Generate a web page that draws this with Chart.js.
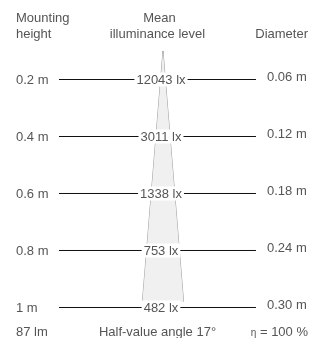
<!DOCTYPE html>
<html><head><meta charset="utf-8">
<script src="https://cdn.jsdelivr.net/npm/chart.js@4/dist/chart.umd.min.js"></script>
<style>html,body{margin:0;padding:0;background:#fff;overflow:hidden}#w{width:311px;height:338px;position:relative}</style>
</head><body>
<div id="w"><canvas id="c" width="311" height="338"></canvas></div>
<script>
// Data
const heights = [0.2, 0.4, 0.6, 0.8, 1.0];
const heightLabels = ['0.2 m', '0.4 m', '0.6 m', '0.8 m', '1 m'];
const illuminance = [12043, 3011, 1338, 753, 482];
const diameters = [0.06, 0.12, 0.18, 0.24, 0.30];
const diameterLabels = ['0.06 m', '0.12 m', '0.18 m', '0.24 m', '0.30 m'];
const luminousFlux = 87;
const halfValueAngle = 17;
const efficiency = 100;
const coneStart = 0.1;
const coneEnd = 0.98;

// Layout (scale units)
const X_MIN = -1.164, X_MAX = 1.057;
const Y_MIN = -0.07895, Y_MAX = 1.10702;
const LINE_L = -0.743, LINE_R = 0.664;

const coneR = diameters[diameters.length - 1] / 2 * coneEnd / heights[heights.length - 1];
const datasets = [];
datasets.push({
  data: [{x: 0, y: coneStart}, {x: -coneR, y: coneEnd}, {x: coneR, y: coneEnd}, {x: 0, y: coneStart}],
  showLine: true, fill: 'shape', backgroundColor: '#f0f0f0', borderWidth: 0, pointRadius: 0, tension: 0
});
datasets.push({
  data: [{x: -coneR, y: coneEnd}, {x: 0, y: coneStart}, {x: coneR, y: coneEnd}],
  showLine: true, fill: false, borderColor: '#9a9a9a', borderWidth: 1, pointRadius: 0, tension: 0
});
heights.forEach(h => {
  datasets.push({
    data: [{x: LINE_L, y: h}, {x: LINE_R, y: h}],
    showLine: true, fill: false, borderColor: '#111', borderWidth: 1, pointRadius: 0
  });
});

const FONT = '13px "Liberation Sans", Arial, sans-serif';
const TXT = '#555';
const textPlugin = {
  id: 'texts',
  afterDatasetsDraw(chart) {
    const ctx = chart.ctx;
    const xs = chart.scales.x, ys = chart.scales.y;
    const cx = xs.getPixelForValue(0) - 2;
    ctx.save();
    ctx.font = FONT;
    ctx.textBaseline = 'middle';
    heights.forEach((h, i) => {
      const y = ys.getPixelForValue(h);
      const t = illuminance[i] + ' lx';
      const w = ctx.measureText(t).width;
      ctx.fillStyle = '#fff';
      ctx.fillRect(cx - w / 2 - 2, y - 7, w + 4, 14);
      ctx.fillStyle = TXT;
      ctx.textAlign = 'center';
      ctx.fillText(t, cx, y + 1);
      ctx.textAlign = 'left';
      ctx.fillText(heightLabels[i], 16, y + 1);
      ctx.fillText(diameterLabels[i], 267, y - 2);
    });
    // header
    ctx.textBaseline = 'alphabetic';
    ctx.textAlign = 'left';
    ctx.fillText('Mounting', 16, 21.5);
    ctx.fillText('height', 16, 38);
    ctx.textAlign = 'center';
    ctx.fillText('Mean', 159.5, 21.5);
    ctx.fillText('illuminance level', 157.5, 38);
    ctx.textAlign = 'right';
    ctx.fillText('Diameter', 308, 38);
    // footer
    ctx.textAlign = 'left';
    ctx.fillText(luminousFlux + ' lm', 16, 335.5);
    ctx.textAlign = 'center';
    ctx.fillText('Half-value angle ' + halfValueAngle + '°', 157.5, 335.5);
    ctx.textAlign = 'right';
    const rest = ' = ' + efficiency + ' %';
    const rw = ctx.measureText(rest).width;
    ctx.fillText(rest, 308, 335.5);
    ctx.font = '10px "Liberation Sans", Arial, sans-serif';
    ctx.fillText('η', 308 - rw, 335.5);
    ctx.restore();
  }
};

new Chart(document.getElementById('c'), {
  type: 'scatter',
  data: { datasets },
  options: {
    responsive: false,
    animation: false,
    devicePixelRatio: 1,
    layout: { padding: 0 },
    plugins: { legend: { display: false }, tooltip: { enabled: false } },
    scales: {
      x: { type: 'linear', min: X_MIN, max: X_MAX, display: false },
      y: { type: 'linear', min: Y_MIN, max: Y_MAX, reverse: true, display: false }
    }
  },
  plugins: [textPlugin]
});
</script>
</body></html>
